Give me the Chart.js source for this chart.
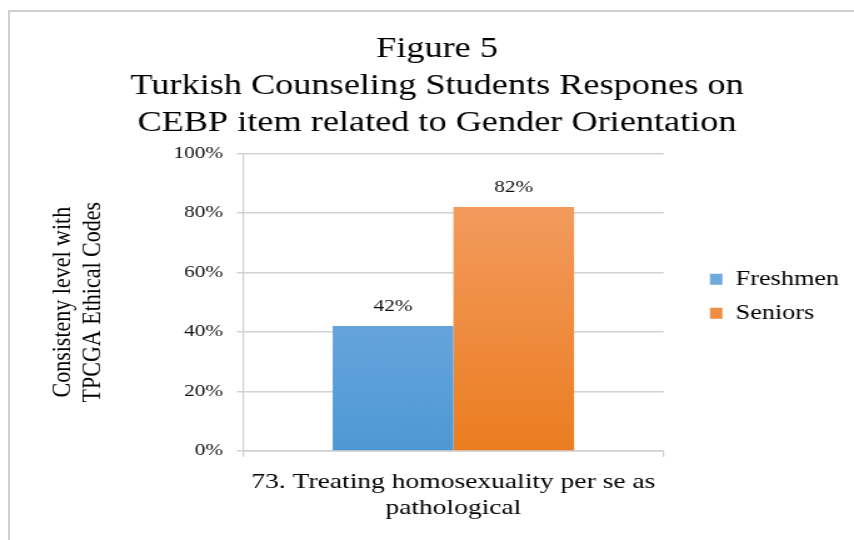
<!DOCTYPE html>
<html>
<head>
<meta charset="utf-8">
<script src="https://cdn.jsdelivr.net/npm/chart.js@4.4.1/dist/chart.umd.min.js"></script>
<style>
  html, body { margin: 0; padding: 0; background: #fff; overflow: hidden; }
  #frame {
    position: absolute; left: 8px; top: 10px; width: 900px; height: 600px;
    border: 2px solid #cfcfcf;
  }
  /* graf je kreslený užší a roztažený do šířky okna */
  #wrap {
    position: absolute; left: 0; top: 0; width: 683px; height: 540px;
    transform: scaleX(1.2504); transform-origin: 0 0;
  }
</style>
</head>
<body>
<div id="frame"></div>
<div id="wrap"><canvas id="graf"></canvas></div>
<script>
const TITULEK = [
  "Figure 5",
  "Turkish Counseling Students Respones on",
  "CEBP item related to Gender Orientation"
];
const KATEGORIE = [["73. Treating homosexuality per se as", "pathological"]];
const SKUPINY = ["Freshmen", "Seniors"];
const HODNOTY = [[0.42], [0.82]];
const OSA_Y_TITULEK = ["Consisteny level with", "TPCGA Ethical Codes"];
const OSA_Y_TICKY = [0, 0.2, 0.4, 0.6, 0.8, 1];

const SERIF = "'Liberation Serif', 'Times New Roman', serif";
const BARVY = [
  ["#86b5e4", "#4e98d5"],
  ["#f5a16b", "#eb7d20"]
];
const MEZERA = 24; // mezera mezi grafem a legendou

function prechod(ctx, i) {
  const area = ctx.chart.chartArea;
  if (!area) return BARVY[i][1];
  const g = ctx.chart.ctx.createLinearGradient(0, area.top, 0, area.bottom);
  g.addColorStop(0, BARVY[i][0]);
  g.addColorStop(1, BARVY[i][1]);
  return g;
}

// popisky hodnot nad sloupci
const popisky = {
  id: "popisky",
  afterDatasetsDraw(chart) {
    const c = chart.ctx;
    c.save();
    c.font = "17px " + SERIF;
    c.fillStyle = "#111";
    c.textAlign = "center";
    c.textBaseline = "bottom";
    chart.data.datasets.forEach((ds, i) => {
      chart.getDatasetMeta(i).data.forEach((bar, j) => {
        c.fillText(Math.round(ds.data[j] * 100) + "%", bar.x, bar.y - 11);
      });
    });
    c.restore();
  }
};

// legenda o kousek dál od grafu a trochu výš
const odsazeniLegendy = {
  id: "odsazeniLegendy",
  beforeLayout(chart) {
    const lg = chart.legend;
    if (!lg || lg.puvodniFit) return;
    lg.puvodniFit = lg.fit;
    lg.fit = function () {
      this.puvodniFit();
      this.width += MEZERA;
    };
  },
  afterLayout(chart) {
    const lg = chart.legend;
    lg.left += MEZERA;
    lg.top -= 6;
    lg.bottom -= 6;
  }
};

new Chart(document.getElementById("graf"), {
  type: "bar",
  data: {
    labels: KATEGORIE,
    datasets: SKUPINY.map((jmeno, i) => ({
      label: jmeno,
      data: HODNOTY[i],
      backgroundColor: ctx => prechod(ctx, i),
      borderWidth: 0
    }))
  },
  options: {
    responsive: true,
    maintainAspectRatio: false,
    animation: false,
    layout: { padding: { left: 17.9, right: 1.9, top: 0, bottom: 0 } },
    categoryPercentage: 0.574,
    barPercentage: 1,
    plugins: {
      title: {
        display: true,
        text: TITULEK,
        color: "#000",
        font: { family: SERIF, size: 29, weight: "normal", lineHeight: 1.28 },
        padding: { top: 31, bottom: 11 }
      },
      legend: {
        position: "right",
        fullSize: false,
        labels: {
          color: "#000",
          boxWidth: 10,
          boxHeight: 11,
          padding: 13,
          font: { family: SERIF, size: 21 }
        }
      },
      tooltip: { enabled: false }
    },
    scales: {
      x: {
        grid: { offset: true, drawOnChartArea: false, tickLength: 6, color: "#cfcfcf", lineWidth: 1.2 },
        border: { color: "#cfcfcf", width: 1.5 },
        ticks: { color: "#000", font: { family: SERIF, size: 22, lineHeight: 1.2 }, padding: 12 },
        afterFit: scale => { scale.height = 89; }
      },
      y: {
        min: 0,
        max: 1,
        afterBuildTicks: scale => { scale.ticks = OSA_Y_TICKY.map(v => ({ value: v })); },
        afterFit: scale => { scale.width = 176.5; },
        grid: { color: "#d2d2d2", lineWidth: 1.5, tickLength: 5 },
        border: { color: "#cfcfcf", width: 1.2 },
        ticks: {
          color: "#111",
          font: { family: SERIF, size: 17 },
          padding: 11,
          callback: v => Math.round(v * 100) + "%"
        },
        title: {
          display: true,
          text: OSA_Y_TITULEK,
          color: "#000",
          font: { family: SERIF, size: 22, lineHeight: 1.1 },
          padding: { top: 20.1, bottom: 0 }
        }
      }
    }
  },
  plugins: [popisky, odsazeniLegendy]
});
</script>
</body>
</html>
